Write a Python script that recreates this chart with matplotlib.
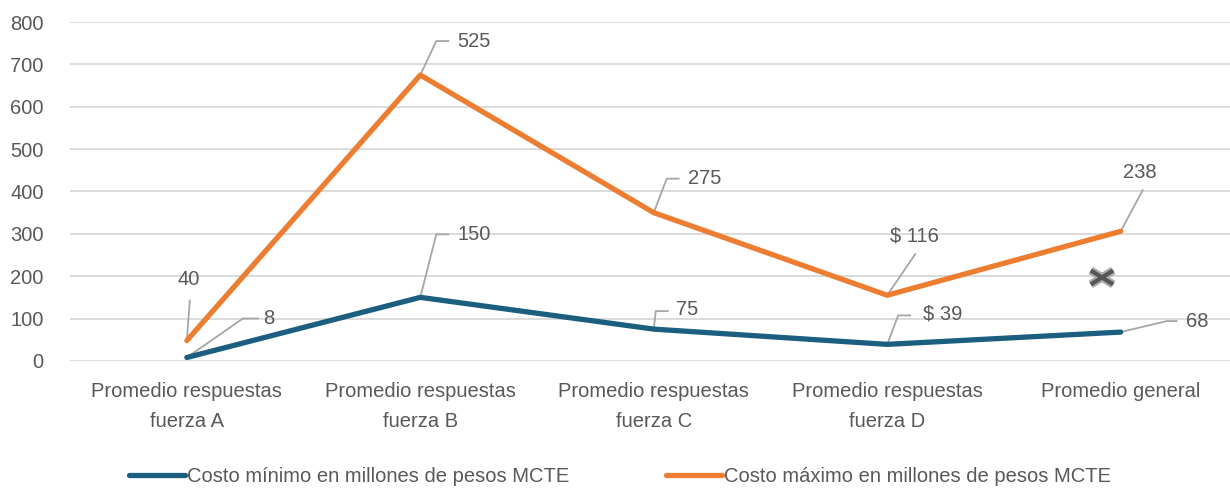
import numpy as np
import matplotlib.pyplot as plt
from matplotlib.path import Path
from matplotlib import font_manager

# narrow face like the original if we have one
names = {f.name for f in font_manager.fontManager.ttflist}
narrow = [n for n in ['Liberation Sans Narrow', 'DejaVu Sans Condensed'] if n in names]
if narrow:
    plt.rcParams['font.family'] = [narrow[0], 'DejaVu Sans']
    fs = 16.0
else:
    plt.rcParams['font.family'] = ['Liberation Sans', 'DejaVu Sans']
    fs = 14.5

categories = ['Promedio respuestas\nfuerza A', 'Promedio respuestas\nfuerza B',
              'Promedio respuestas\nfuerza C', 'Promedio respuestas\nfuerza D',
              'Promedio general']
costo_min = [8, 150, 75, 39, 68]
costo_max = [40, 525, 275, 116, 238]
min_labels = ['8', '150', '75', '$ 39', '68']
max_labels = ['40', '525', '275', '$ 116', '238']
yticks = [0, 100, 200, 300, 400, 500, 600, 700, 800]
stray_x = [3.92]
stray_y = [197]

blue = '#1b5e80'
orange = '#ed7d31'
txt = '#595959'
lead = '#a6a6a6'

fig = plt.figure(figsize=(12.3, 4.91), dpi=100)
ax = fig.add_axes([0.057, 0.265, 0.949, 0.69])

x = np.arange(len(categories))
stacked = np.array(costo_min) + np.array(costo_max)   # lines are stacked

ax.plot(x, costo_min, color=blue, lw=3.8, solid_capstyle='round',
        label='Costo mínimo en millones de pesos MCTE', zorder=3)
ax.plot(x, stacked, color=orange, lw=3.8, solid_capstyle='round',
        label='Costo máximo en millones de pesos MCTE', zorder=3)

# odd little cross marker that sits in the original
xmark = Path([(-1.6, -1), (1.6, 1), (-1.6, 1), (1.6, -1)],
             [Path.MOVETO, Path.LINETO, Path.MOVETO, Path.LINETO])
ax.scatter(stray_x, stray_y, marker=xmark, s=260, facecolor='none',
           edgecolor='#aaaaaa', linewidths=6, zorder=4)
ax.scatter(stray_x, stray_y, marker=xmark, s=260, facecolor='none',
           edgecolor='#555555', linewidths=3, zorder=5)

ax.set_xlim(-0.5, len(categories) - 0.5)
ax.set_ylim(0, 800)
ax.set_yticks(yticks)
ax.set_xticks(x)
ax.set_xticklabels(categories, linespacing=1.75)
ax.grid(axis='y', color='#d9d9d9', lw=1.3)
ax.set_axisbelow(True)
for s in ax.spines.values():
    s.set_visible(False)
ax.tick_params(axis='both', length=0, labelsize=fs, labelcolor=txt)
ax.tick_params(axis='y', pad=19)
ax.tick_params(axis='x', pad=15)


def label(xv, yv, text, pts, toff, ha='left'):
    # pts: leader line offsets in pixels from the data point
    tr = ax.transData
    ox, oy = [0] + [p[0] for p in pts], [0] + [p[1] for p in pts]
    base = tr.transform((xv, yv))
    inv = tr.inverted()
    xy = inv.transform(np.column_stack([base[0] + np.array(ox), base[1] + np.array(oy)]))
    ax.plot(xy[:, 0], xy[:, 1], color=lead, lw=1.3, zorder=2)
    ax.annotate(text, (xv, yv), xytext=toff, textcoords='offset pixels',
                ha=ha, va='center', fontsize=fs, color=txt)


min_leads = [([(56, 39), (71, 39)], (76, 39), 'left'),
             ([(16, 63), (28, 63)], (37, 63), 'left'),
             ([(2, 18), (14, 18)], (22, 20), 'left'),
             ([(11, 29), (23, 29)], (36, 30), 'left'),
             ([(46, 11), (56, 11)], (65, 11), 'left')]
max_leads = [([(3, 40)], (2, 61), 'center'),
             ([(16, 34), (28, 34)], (37, 34), 'left'),
             ([(13, 34), (25, 34)], (34, 34), 'left'),
             ([(28, 41)], (27, 59), 'center'),
             ([(22, 41)], (19, 59), 'center')]

for i in x:
    p, t, h = min_leads[i]
    label(i, costo_min[i], min_labels[i], p, t, h)
    p, t, h = max_leads[i]
    label(i, stacked[i], max_labels[i], p, t, h)

leg = fig.legend(loc='center', bbox_to_anchor=(0.504, 0.03), ncol=2, frameon=False,
                 fontsize=fs, handlelength=2.8, handletextpad=0.1, columnspacing=4.8)
for t in leg.get_texts():
    t.set_color(txt)

fig.savefig('out.png', dpi=100)
